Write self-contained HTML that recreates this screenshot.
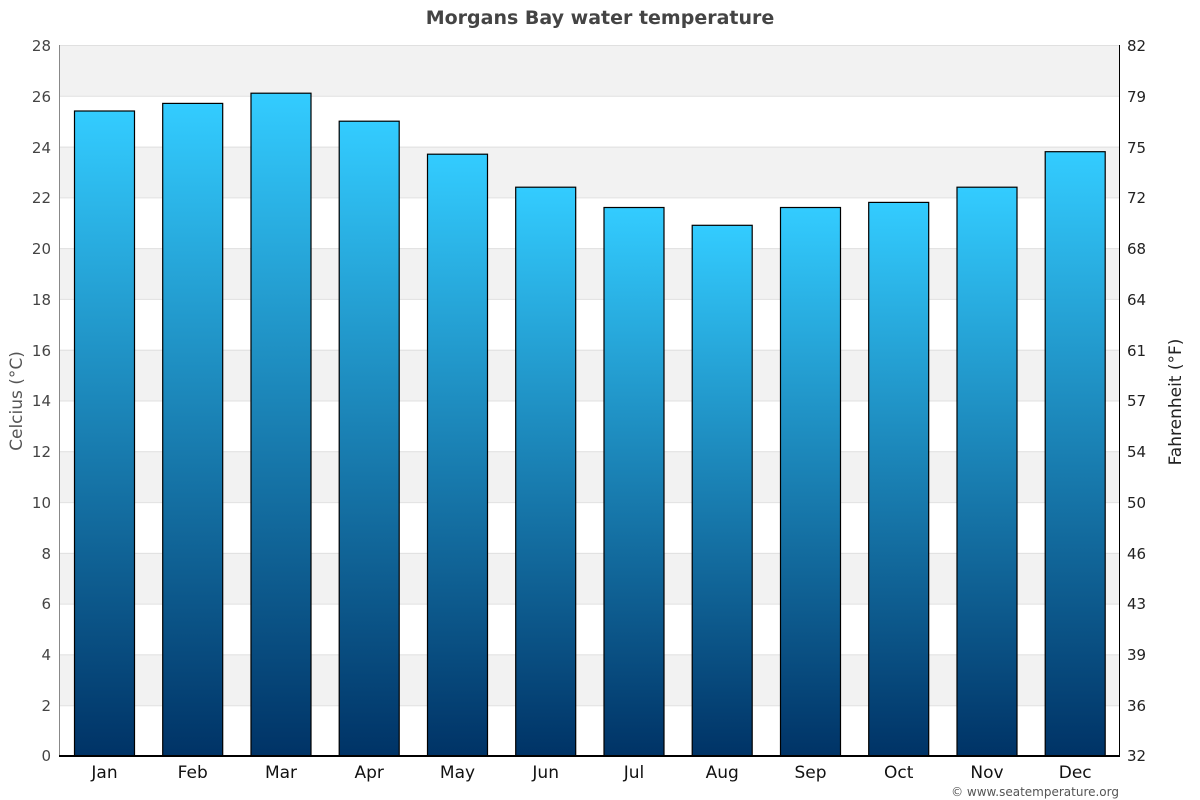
<!DOCTYPE html>
<html><head><meta charset="utf-8"><style>
html,body{margin:0;padding:0;background:#fff;}
svg{display:block;font-family:"DejaVu Sans","Liberation Sans",sans-serif;}
</style></head><body>
<svg width="1200" height="800" viewBox="0 0 1200 800" xmlns="http://www.w3.org/2000/svg">
<defs>
<linearGradient id="g" x1="0" y1="0" x2="0" y2="1">
<stop offset="0" stop-color="#33ccff"/>
<stop offset="1" stop-color="#003366"/>
</linearGradient>
</defs>
<rect width="1200" height="800" fill="#fff"/>
<text x="600" y="24" text-anchor="middle" font-size="19" font-weight="bold" fill="#444">Morgans Bay water temperature</text>
<!-- bands -->
<g fill="#f2f2f2">
<rect x="60" y="45" width="1059" height="50.79"/>
<rect x="60" y="146.57" width="1059" height="50.79"/>
<rect x="60" y="248.14" width="1059" height="50.79"/>
<rect x="60" y="349.71" width="1059" height="50.79"/>
<rect x="60" y="451.29" width="1059" height="50.79"/>
<rect x="60" y="552.86" width="1059" height="50.79"/>
<rect x="60" y="654.43" width="1059" height="50.79"/>
</g>
<g stroke="#e0e0e0" stroke-width="1">
<line x1="60" x2="1119" y1="45.5" y2="45.5"/>
<line x1="60" x2="1119" y1="96.3" y2="96.3"/>
<line x1="60" x2="1119" y1="147.1" y2="147.1"/>
<line x1="60" x2="1119" y1="197.9" y2="197.9"/>
<line x1="60" x2="1119" y1="248.6" y2="248.6"/>
<line x1="60" x2="1119" y1="299.4" y2="299.4"/>
<line x1="60" x2="1119" y1="350.2" y2="350.2"/>
<line x1="60" x2="1119" y1="401" y2="401"/>
<line x1="60" x2="1119" y1="451.8" y2="451.8"/>
<line x1="60" x2="1119" y1="502.6" y2="502.6"/>
<line x1="60" x2="1119" y1="553.4" y2="553.4"/>
<line x1="60" x2="1119" y1="604.1" y2="604.1"/>
<line x1="60" x2="1119" y1="654.9" y2="654.9"/>
<line x1="60" x2="1119" y1="705.7" y2="705.7"/>
</g>
<!-- bars -->
<g fill="url(#g)" stroke="#000" stroke-width="1.2">
<rect x="74.5" y="111.0" width="60" height="645"/>
<rect x="162.7" y="103.4" width="60" height="652.6"/>
<rect x="251" y="93.2" width="60" height="662.8"/>
<rect x="339.2" y="121.2" width="60" height="634.8"/>
<rect x="427.5" y="154.2" width="60" height="601.8"/>
<rect x="515.7" y="187.2" width="60" height="568.8"/>
<rect x="604" y="207.5" width="60" height="548.5"/>
<rect x="692.2" y="225.3" width="60" height="530.7"/>
<rect x="780.5" y="207.5" width="60" height="548.5"/>
<rect x="868.7" y="202.4" width="60" height="553.6"/>
<rect x="957" y="187.2" width="60" height="568.8"/>
<rect x="1045.2" y="151.7" width="60" height="604.3"/>
</g>
<!-- axes -->
<line x1="59.5" y1="45" x2="59.5" y2="756" stroke="#888" stroke-width="1"/>
<line x1="1119.5" y1="45" x2="1119.5" y2="756" stroke="#000" stroke-width="1"/>
<line x1="59" y1="756" x2="1120" y2="756" stroke="#000" stroke-width="2"/>
<!-- left ticks -->
<g font-size="15" fill="#444" text-anchor="end">
<text x="51" y="51">28</text>
<text x="51" y="102">26</text>
<text x="51" y="153">24</text>
<text x="51" y="203">22</text>
<text x="51" y="254">20</text>
<text x="51" y="305">18</text>
<text x="51" y="356">16</text>
<text x="51" y="406">14</text>
<text x="51" y="457">12</text>
<text x="51" y="508">10</text>
<text x="51" y="559">8</text>
<text x="51" y="609">6</text>
<text x="51" y="660">4</text>
<text x="51" y="711">2</text>
<text x="51" y="761">0</text>
</g>
<g font-size="15" fill="#222" text-anchor="start">
<text x="1127" y="51">82</text>
<text x="1127" y="102">79</text>
<text x="1127" y="153">75</text>
<text x="1127" y="203">72</text>
<text x="1127" y="254">68</text>
<text x="1127" y="305">64</text>
<text x="1127" y="356">61</text>
<text x="1127" y="406">57</text>
<text x="1127" y="457">54</text>
<text x="1127" y="508">50</text>
<text x="1127" y="559">46</text>
<text x="1127" y="609">43</text>
<text x="1127" y="660">39</text>
<text x="1127" y="711">36</text>
<text x="1127" y="761">32</text>
</g>
<text transform="translate(22,401) rotate(-90)" text-anchor="middle" font-size="17" fill="#555">Celcius (°C)</text>
<text transform="translate(1181,402) rotate(-90)" text-anchor="middle" font-size="17" fill="#222">Fahrenheit (°F)</text>
<!-- months -->
<g font-size="17" fill="#111" text-anchor="middle">
<text x="104.5" y="778">Jan</text>
<text x="192.7" y="778">Feb</text>
<text x="281" y="778">Mar</text>
<text x="369.2" y="778">Apr</text>
<text x="457.5" y="778">May</text>
<text x="545.7" y="778">Jun</text>
<text x="634" y="778">Jul</text>
<text x="722.2" y="778">Aug</text>
<text x="810.5" y="778">Sep</text>
<text x="898.7" y="778">Oct</text>
<text x="987" y="778">Nov</text>
<text x="1075.2" y="778">Dec</text>
</g>
<text x="1119" y="796" text-anchor="end" font-size="12" fill="#555">© www.seatemperature.org</text>
</svg>
</body></html>
